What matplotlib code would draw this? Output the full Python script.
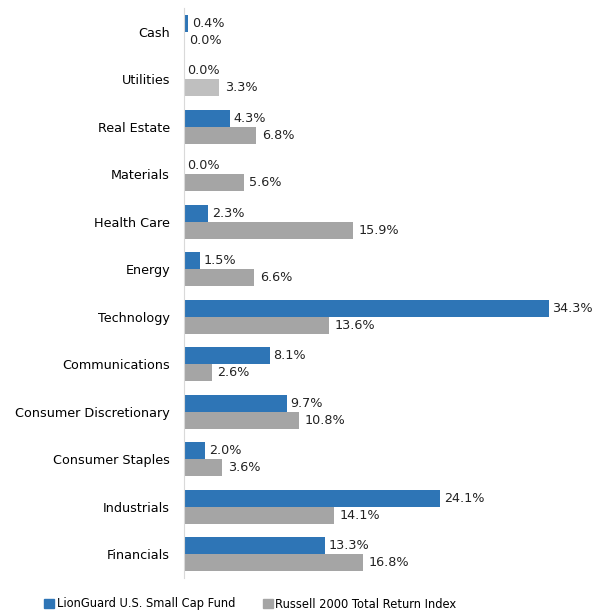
import matplotlib
matplotlib.use("Agg")
from matplotlib import pyplot as plt
from matplotlib.patches import Patch
import numpy as np

categories = ["Cash", "Utilities", "Real Estate", "Materials", "Health Care", "Energy",
              "Technology", "Communications", "Consumer Discretionary", "Consumer Staples",
              "Industrials", "Financials"]
fund = [0.4, 0.0, 4.3, 0.0, 2.3, 1.5, 34.3, 8.1, 9.7, 2.0, 24.1, 13.3]
index = [0.0, 3.3, 6.8, 5.6, 15.9, 6.6, 13.6, 2.6, 10.8, 3.6, 14.1, 16.8]

BLUE = "#2E75B6"
GRAY = "#A5A5A5"
LIGHT_GRAY = "#BFBFBF"
font = {'family': 'DejaVu Sans', 'size': 9.2}

fig = plt.figure(figsize=(6.09, 6.14), dpi=100)
ax = fig.add_axes([184/609, 1 - 578/614, (588-184)/609, (578-8)/614])

y = np.arange(len(categories))
h = 0.36
idx_colors = [LIGHT_GRAY if c == "Utilities" else GRAY for c in categories]
ax.barh(y - h/2, fund, height=h, color=BLUE)
ax.barh(y + h/2, index, height=h, color=idx_colors)

# value labels just past the bar ends
for yi, v in zip(y, fund):
    ax.annotate("%.1f%%" % v, (v, yi - h/2), xytext=(2.5, 0), textcoords="offset points",
                va="center", ha="left", color="#222222", **font)
for yi, v in zip(y, index):
    ax.annotate("%.1f%%" % v, (v, yi + h/2), xytext=(4, 0), textcoords="offset points",
                va="center", ha="left", color="#222222", **font)

ax.set_ylim(len(categories) - 0.5, -0.5)
ax.set_xlim(0, 38)
ax.set_yticks(y)
ax.set_yticklabels(categories, **font)
ax.tick_params(left=False, bottom=False, labelbottom=False, length=0, pad=10)
for s in ["top", "right", "bottom"]:
    ax.spines[s].set_visible(False)
ax.spines["left"].set_color("#D9D9D9")

handles = [Patch(color=BLUE, label="LionGuard U.S. Small Cap Fund"),
           Patch(color=GRAY, label="Russell 2000 Total Return Index")]
fig.legend(handles=handles, loc="center left", bbox_to_anchor=(44/609, 1 - 604/614), ncol=2,
           frameon=False, prop={'family': 'DejaVu Sans', 'size': 8.3},
           borderpad=0, borderaxespad=0, handlelength=0.9, handleheight=0.9,
           handletextpad=0.2, columnspacing=2.4)

fig.savefig("out.png", dpi=100)
